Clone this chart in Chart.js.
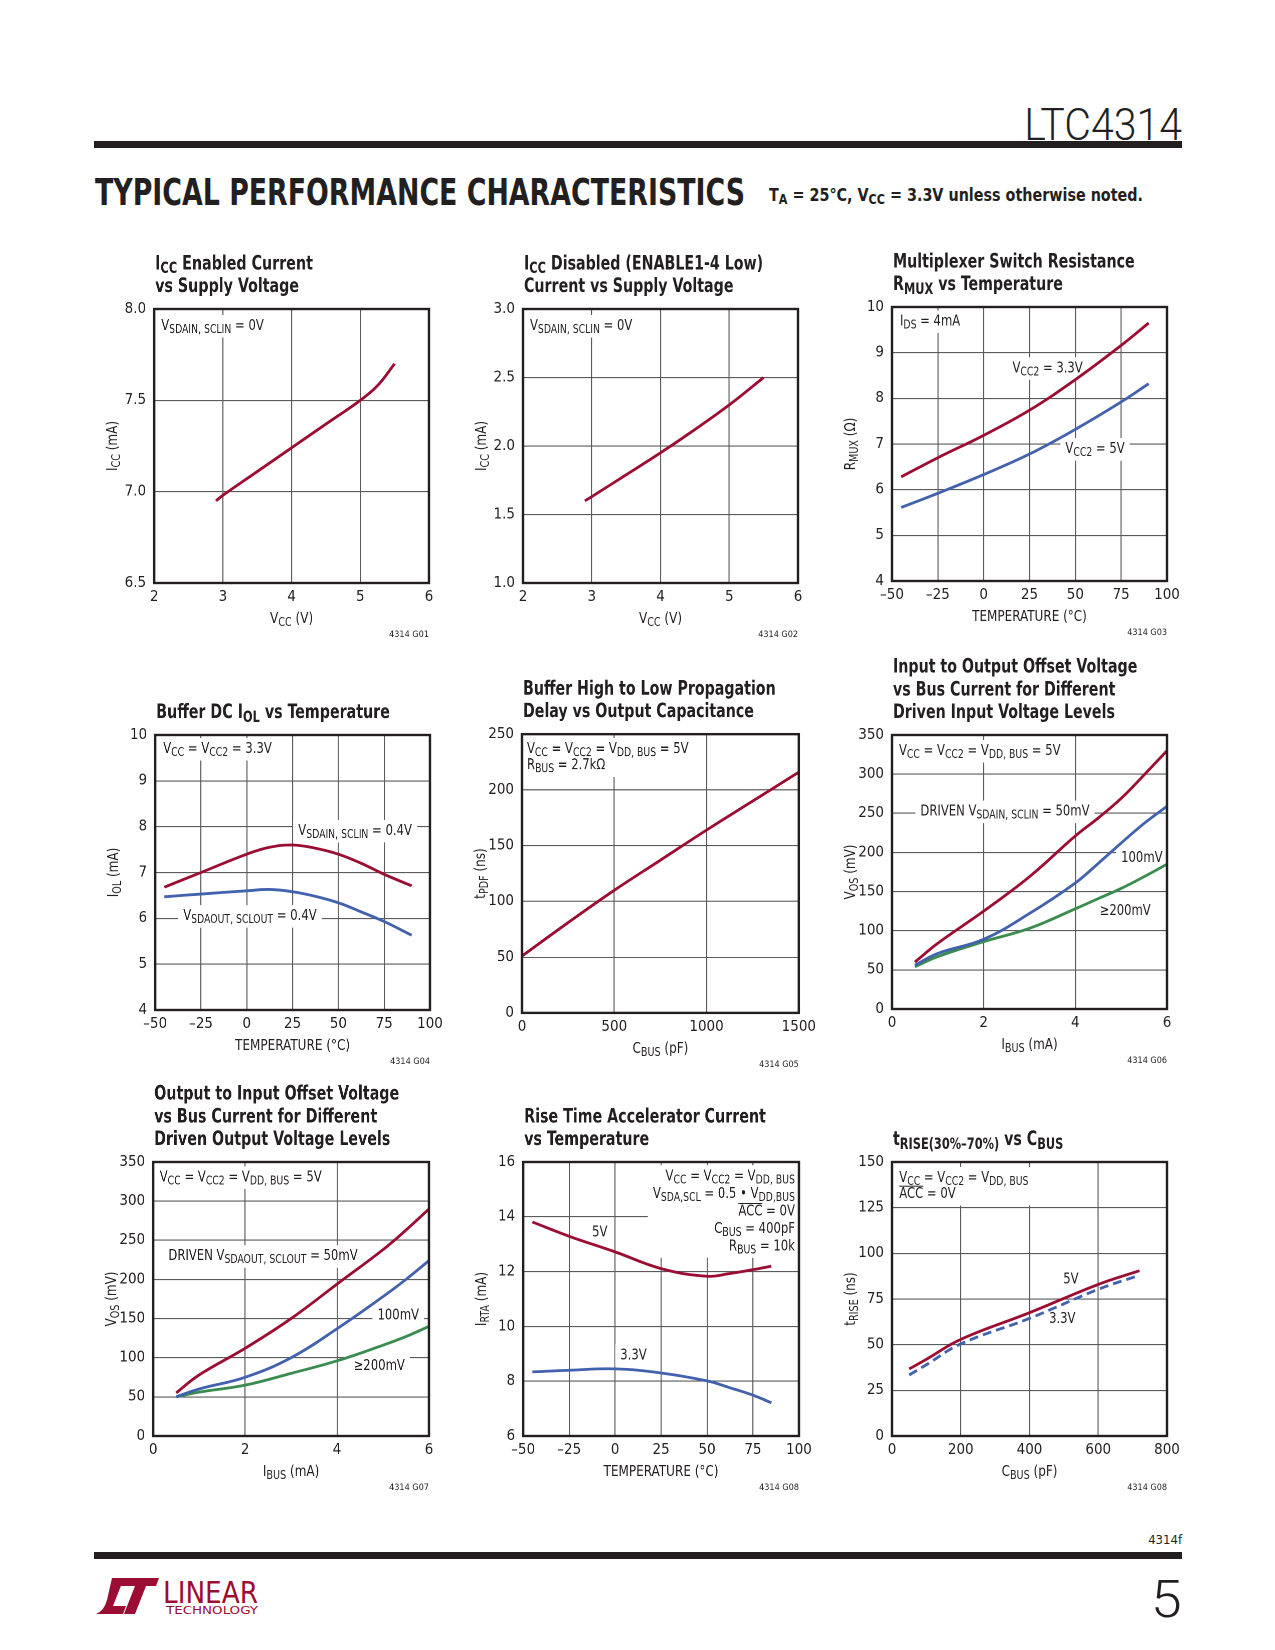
<!DOCTYPE html>
<html>
<head>
<meta charset="utf-8">
<script src="https://cdn.jsdelivr.net/npm/chart.js@4.4.1/dist/chart.umd.min.js"></script>
<style>
  html, body { margin: 0; padding: 0; background: #fff; }
  #page { position: relative; width: 1275px; height: 1650px; overflow: hidden; background: #fff;
          color: #231f20; font-family: 'Liberation Sans Narrow', 'DejaVu Sans Condensed', sans-serif; }
  .abs { position: absolute; white-space: nowrap; line-height: 1; }
  .fit { transform-origin: left top; }
  .fitr { transform-origin: right top; }
  .bar { position: absolute; background: #231f20; }
  canvas { position: absolute; }
  sub { font-size: 0.78em; vertical-align: -0.22em; line-height: 0; }
</style>
</head>
<body>
<div id="page">
  <div class="abs fitr" data-w="158" style="right:93px; top:99px; font:300 44px Roboto, 'DejaVu Sans', sans-serif;">LTC4314</div>
  <div class="bar" style="left:94px; top:141px; width:1088px; height:7px;"></div>
  <div class="abs fit" data-w="650" style="left:95px; top:170px; font:bold 38px 'DejaVu Sans Condensed','DejaVu Sans',sans-serif;">TYPICAL PERFORMANCE CHARACTERISTICS</div>
  <div class="abs fit" data-w="374" style="left:769px; top:186px; font-weight:bold; font-size:18px;">T<sub>A</sub> = 25°C, V<sub>CC</sub> = 3.3V unless otherwise noted.</div>

  <div class="abs" style="right:93px; top:1533px; font-size:13px;">4314f</div>
  <div class="bar" style="left:94px; top:1552px; width:1088px; height:7px;"></div>
  <div class="abs fitr" data-w="31" style="right:93px; top:1569px; font:300 52px Roboto, 'DejaVu Sans', sans-serif;">5</div>
  <svg class="abs" style="left:95px; top:1576px;" width="170" height="42" viewBox="0 0 170 42">
    <g fill="#9b0d32">
      <path d="M17 2 L29 2 L18 30 L31 30 L28 38 L1 38 Q9 35 12 24 Z"/>
      <path d="M27 2 L64 2 L61 10 L51 10 L40 38 L29 38 L40 10 L24 10 Z"/>
      <text x="68" y="27" font-family="'DejaVu Sans Condensed',sans-serif" font-size="31" textLength="95" lengthAdjust="spacingAndGlyphs">LINEAR</text>
      <text x="71" y="38" font-family="'DejaVu Sans Condensed',sans-serif" font-size="10" textLength="92" lengthAdjust="spacingAndGlyphs">TECHNOLOGY</text>
    </g>
  </svg>
</div>

<script>
const FAM = "'Liberation Sans Narrow', 'DejaVu Sans Condensed', sans-serif";
const INK = '#231f20';
const RED = '#9b0d32', BLUE = '#4262ae', GREEN = '#3a8c4e';

// G01  ICC enabled vs VCC
const g01Vcc = [2.9, 3.0, 3.5, 4.0, 4.5, 5.0, 5.25, 5.5];
const g01Icc = [6.95, 6.98, 7.11, 7.24, 7.37, 7.50, 7.58, 7.70];

// G02  ICC disabled vs VCC
const g02Vcc = [2.9, 3.0, 3.5, 4.0, 4.5, 5.0, 5.5];
const g02Icc = [1.60, 1.63, 1.79, 1.95, 2.12, 2.30, 2.50];

// G03  RMUX vs temperature
const g03Temp = [-45, -25, 0, 25, 50, 75, 90];
const g03R33 = [6.28, 6.70, 7.19, 7.74, 8.41, 9.16, 9.65];
const g03R5 = [5.61, 5.92, 6.33, 6.78, 7.32, 7.92, 8.32];

// G04  buffer DC IOL vs temperature
const g04Temp = [-45, -25, 0, 12.5, 25, 37.5, 50, 62.5, 75, 90];
const g04In = [6.68, 7.00, 7.40, 7.55, 7.60, 7.53, 7.40, 7.20, 6.96, 6.71];
const g04Out = [6.47, 6.53, 6.60, 6.63, 6.58, 6.48, 6.34, 6.14, 5.93, 5.63];

// G05  tPDF vs CBUS
const g05Cbus = [0, 250, 500, 750, 1000, 1250, 1500];
const g05Tpdf = [51, 81, 110, 137, 164, 190, 216];

// G06  input to output offset
const g06Ibus = [0.5, 1, 2, 3, 4, 4.5, 5, 5.5, 6];
const g06Vos50 = [60, 84, 125, 169, 221, 244, 269, 299, 330];
const g06Vos100 = [56, 71, 89, 122, 161, 186, 212, 237, 259];
const g06Vos200 = [54, 67, 86, 103, 128, 141, 154, 169, 185];

// G07  output to input offset
const g07Ibus = [0.5, 1, 2, 3, 4, 5, 5.5, 6];
const g07Vos50 = [55, 78, 112, 150, 194, 238, 263, 290];
const g07Vos100 = [50, 60, 75, 100, 137, 178, 200, 224];
const g07Vos200 = [50, 56, 65, 80, 96, 116, 127, 140];

// G08  rise time accelerator current
const g08Temp = [-45, -25, 0, 25, 50, 62.5, 75, 85];
const g08I5 = [13.81, 13.29, 12.72, 12.11, 11.83, 11.93, 12.07, 12.20];
const g08I33 = [8.34, 8.40, 8.45, 8.30, 8.01, 7.76, 7.49, 7.21];

// G09  tRISE vs CBUS
const g09Cbus = [50, 100, 200, 400, 600, 720];
const g09T5 = [36.7, 42, 52.9, 67.5, 83, 90.5];
const g09T33 = [33.4, 39, 50.4, 64.4, 80.3, 88];

// "_{..}" subscript, "~{..}" overline
function parseRich(s) {
  const out = [];
  let i = 0, buf = '';
  while (i < s.length) {
    const c = s[i];
    if ((c === '_' || c === '~') && s[i + 1] === '{') {
      if (buf) out.push({ t: buf });
      buf = '';
      const j = s.indexOf('}', i);
      out.push({ t: s.slice(i + 2, j), sub: c === '_', over: c === '~' });
      i = j + 1;
    } else { buf += c; i++; }
  }
  if (buf) out.push({ t: buf });
  return out;
}

// text squeezed horizontally by o.sx (no narrow face is installed)
function drawRich(ctx, s, x, y, o) {
  const size = o.size, wt = o.bold ? 'bold ' : '', sx = o.sx || 1;
  const fN = wt + size + 'px ' + FAM;
  const fS = wt + (size * 0.8).toFixed(1) + 'px ' + FAM;
  const segs = parseRich(s);
  let w = 0;
  segs.forEach(g => { ctx.font = g.sub ? fS : fN; g.w = ctx.measureText(g.t).width * sx; w += g.w; });
  let cx = o.align === 'right' ? x - w : o.align === 'center' ? x - w / 2 : x;
  const x0 = cx;
  if (!o.measure) {
    ctx.fillStyle = o.color || INK;
    ctx.textAlign = 'left';
    ctx.textBaseline = 'alphabetic';
    segs.forEach(g => {
      ctx.font = g.sub ? fS : fN;
      ctx.save();
      ctx.translate(cx, y + (g.sub ? size * 0.2 : 0));
      ctx.scale(sx, 1);
      ctx.fillText(g.t, 0, 0);
      ctx.restore();
      if (g.over) ctx.fillRect(cx, y - size * 0.82, g.w, 1);
      cx += g.w;
    });
  }
  return { x0, w };
}

const SX_NOTE = 0.86, SX_TITLE = 0.81, SX_AXIS = 0.89;

const notesPlugin = {
  id: 'notes',
  beforeDatasetsDraw(chart, args, o) {
    const ctx = chart.ctx, a = chart.chartArea;
    ctx.save();
    (o.labels || []).forEach(L => {
      const sz = L.size || 15, lh = L.lh || 16.5;
      let bx, by;
      if (L.at === 'tl') { bx = a.left + L.x; by = a.top + L.y; }
      else if (L.at === 'tr') { bx = a.right - L.x; by = a.top + L.y; }
      else { bx = chart.scales.x.getPixelForValue(L.x); by = chart.scales.y.getPixelForValue(L.y); }
      let minX = 1e9, maxX = -1e9;
      L.lines.forEach((s, i) => {
        const m = drawRich(ctx, s, bx, by + i * lh, { size: sz, align: L.align, sx: SX_NOTE, measure: true });
        minX = Math.min(minX, m.x0); maxX = Math.max(maxX, m.x0 + m.w);
      });
      const top = by - sz * 0.8 - 3, bot = by + (L.lines.length - 1) * lh + sz * 0.3 + 3;
      ctx.fillStyle = '#fff';
      ctx.fillRect(minX - 5, top, maxX - minX + 10, bot - top);
      L.lines.forEach((s, i) => drawRich(ctx, s, bx, by + i * lh, { size: sz, align: L.align, sx: SX_NOTE }));
    });
    ctx.restore();
  },
  afterDraw(chart, args, o) {
    const ctx = chart.ctx, a = chart.chartArea;
    ctx.save();
    ctx.strokeStyle = INK;
    ctx.lineWidth = 2.4;
    ctx.strokeRect(a.left, a.top, a.right - a.left, a.bottom - a.top);
    const n = o.title.length;
    o.title.forEach((s, i) => {
      drawRich(ctx, s, a.left + 1, a.top - 17 - (n - 1 - i) * 22.7, { size: 19.5, bold: true, sx: SX_TITLE });
    });
    drawRich(ctx, o.xTitle, (a.left + a.right) / 2, a.bottom + 40, { size: 15, align: 'center', sx: SX_AXIS });
    ctx.translate(a.left - 42, (a.top + a.bottom) / 2);
    ctx.rotate(-Math.PI / 2);
    drawRich(ctx, o.yTitle, 0, 5, { size: 15, align: 'center', sx: SX_AXIS });
    ctx.restore();
    ctx.save();
    ctx.font = '9px ' + FAM;
    ctx.fillStyle = INK;
    ctx.textAlign = 'right';
    ctx.fillText(o.code, a.right, a.bottom + 54);
    ctx.restore();
  }
};

const dash = v => String(v).replace('-', '\u2013');

function axis(min, max, step, dec, horizontal) {
  return {
    type: 'linear', min, max,
    ticks: {
      stepSize: step, color: INK, font: { size: 15 }, padding: horizontal ? 5 : 8,
      maxRotation: 0, autoSkip: false,
      callback: v => dash(dec ? Number(v).toFixed(dec) : v)
    },
    grid: { color: '#5b5b5b', lineWidth: 1.1, drawTicks: false },
    border: { display: false },
    afterFit(s) { if (horizontal) s.height = 40; else s.width = 40; }
  };
}

function series(xs, ys, color, dashed) {
  return {
    data: xs.map((x, i) => ({ x, y: ys[i] })),
    borderColor: color, borderWidth: 2.8, pointRadius: 0, fill: false,
    tension: 0.4, borderDash: dashed ? [9, 5] : [],
    borderCapStyle: 'butt'
  };
}

const page = document.getElementById('page');

function makeChart(box, xs, ys, datasets, notes) {
  const W = box.r - box.l + 80, H = box.b - box.t + 85 + 62;
  const cv = document.createElement('canvas');
  cv.width = W; cv.height = H;
  cv.style.left = (box.l - 60) + 'px';
  cv.style.top = (box.t - 85) + 'px';
  cv.style.width = W + 'px';
  cv.style.height = H + 'px';
  page.appendChild(cv);
  new Chart(cv, {
    type: 'line',
    data: { datasets },
    options: {
      responsive: false, animation: false, devicePixelRatio: 2,
      layout: { padding: { left: 20, right: 20, top: 85, bottom: 22 }, autoPadding: false },
      plugins: { legend: { display: false }, tooltip: { enabled: false }, notes },
      scales: { x: xs, y: ys }
    },
    plugins: [notesPlugin]
  });
}

Chart.defaults.font.family = FAM;

makeChart({ l: 154.3, t: 309, r: 429, b: 583 },
  axis(2, 6, 1, 0, true), axis(6.5, 8, 0.5, 1, false),
  [series(g01Vcc, g01Icc, RED)],
  { title: ['I_{CC} Enabled Current', 'vs Supply Voltage'], xTitle: 'V_{CC} (V)', yTitle: 'I_{CC} (mA)', code: '4314 G01',
    labels: [{ at: 'tl', x: 7, y: 21, lines: ['V_{SDAIN, SCLIN} = 0V'] }] });

makeChart({ l: 522.7, t: 309, r: 798.5, b: 583 },
  axis(2, 6, 1, 0, true), axis(1, 3, 0.5, 1, false),
  [series(g02Vcc, g02Icc, RED)],
  { title: ['I_{CC} Disabled (ENABLE1-4 Low)', 'Current vs Supply Voltage'], xTitle: 'V_{CC} (V)', yTitle: 'I_{CC} (mA)', code: '4314 G02',
    labels: [{ at: 'tl', x: 7, y: 21, lines: ['V_{SDAIN, SCLIN} = 0V'] }] });

makeChart({ l: 891.7, t: 306.7, r: 1167, b: 581 },
  axis(-50, 100, 25, 0, true), axis(4, 10, 1, 0, false),
  [series(g03Temp, g03R33, RED), series(g03Temp, g03R5, BLUE)],
  { title: ['Multiplexer Switch Resistance', 'R_{MUX} vs Temperature'], xTitle: 'TEMPERATURE (°C)', yTitle: 'R_{MUX} (Ω)', code: '4314 G03',
    labels: [
      { at: 'tl', x: 8, y: 18.5, lines: ['I_{DS} = 4mA'] },
      { x: 15.7, y: 8.57, lines: ['V_{CC2} = 3.3V'] },
      { x: 44.6, y: 6.80, lines: ['V_{CC2} = 5V'] }
    ] });

makeChart({ l: 155, t: 735, r: 429.5, b: 1010 },
  axis(-50, 100, 25, 0, true), axis(4, 10, 1, 0, false),
  [series(g04Temp, g04In, RED), series(g04Temp, g04Out, BLUE)],
  { title: ['Buffer DC I_{OL} vs Temperature'], xTitle: 'TEMPERATURE (°C)', yTitle: 'I_{OL} (mA)', code: '4314 G04',
    labels: [
      { at: 'tl', x: 8, y: 18, lines: ['V_{CC} = V_{CC2} = 3.3V'] },
      { x: 28.1, y: 7.82, lines: ['V_{SDAIN, SCLIN} = 0.4V'] },
      { x: -34.7, y: 5.96, lines: ['V_{SDAOUT, SCLOUT} = 0.4V'] }
    ] });

makeChart({ l: 522.3, t: 734.3, r: 801.3, b: 1013 },
  axis(0, 1500, 500, 0, true), axis(0, 250, 50, 0, false),
  [series(g05Cbus, g05Tpdf, RED)],
  { title: ['Buffer High to Low Propagation', 'Delay vs Output Capacitance'], xTitle: 'C_{BUS} (pF)', yTitle: 't_{PDF} (ns)', code: '4314 G05',
    labels: [{ at: 'tl', x: 5, y: 19, lh: 16, lines: ['V_{CC} = V_{CC2} = V_{DD, BUS} = 5V', 'R_{BUS} = 2.7kΩ'] }] });

makeChart({ l: 891.7, t: 735, r: 1167, b: 1009.3 },
  axis(0, 6, 2, 0, true), axis(0, 350, 50, 0, false),
  [series(g06Ibus, g06Vos50, RED), series(g06Ibus, g06Vos100, BLUE), series(g06Ibus, g06Vos200, GREEN)],
  { title: ['Input to Output Offset Voltage', 'vs Bus Current for Different', 'Driven Input Voltage Levels'], xTitle: 'I_{BUS} (mA)', yTitle: 'V_{OS} (mV)', code: '4314 G06',
    labels: [
      { at: 'tl', x: 7, y: 20, lines: ['V_{CC} = V_{CC2} = V_{DD, BUS} = 5V'] },
      { x: 0.62, y: 247, lines: ['DRIVEN V_{SDAIN, SCLIN} = 50mV'] },
      { x: 5.0, y: 188, lines: ['100mV'] },
      { x: 4.53, y: 120, lines: ['≥200mV'] }
    ] });

makeChart({ l: 152.7, t: 1161.7, r: 428.6, b: 1436 },
  axis(0, 6, 2, 0, true), axis(0, 350, 50, 0, false),
  [series(g07Ibus, g07Vos50, RED), series(g07Ibus, g07Vos100, BLUE), series(g07Ibus, g07Vos200, GREEN)],
  { title: ['Output to Input Offset Voltage', 'vs Bus Current for Different', 'Driven Output Voltage Levels'], xTitle: 'I_{BUS} (mA)', yTitle: 'V_{OS} (mV)', code: '4314 G07',
    labels: [
      { at: 'tl', x: 6.5, y: 19.5, lines: ['V_{CC} = V_{CC2} = V_{DD, BUS} = 5V'] },
      { x: 0.33, y: 224.5, lines: ['DRIVEN V_{SDAOUT, SCLOUT} = 50mV'] },
      { x: 4.88, y: 149, lines: ['100mV'] },
      { x: 4.36, y: 84, lines: ['≥200mV'] }
    ] });

makeChart({ l: 523.3, t: 1161.7, r: 798.7, b: 1436 },
  axis(-50, 100, 25, 0, true), axis(6, 16, 2, 0, false),
  [series(g08Temp, g08I5, RED), series(g08Temp, g08I33, BLUE)],
  { title: ['Rise Time Accelerator Current', 'vs Temperature'], xTitle: 'TEMPERATURE (°C)', yTitle: 'I_{RTA} (mA)', code: '4314 G08',
    labels: [
      { at: 'tr', x: 4, y: 18.3, lh: 17.5, align: 'right',
        lines: ['V_{CC} = V_{CC2} = V_{DD, BUS}', 'V_{SDA,SCL} = 0.5 • V_{DD,BUS}', '~{ACC} = 0V', 'C_{BUS} = 400pF', 'R_{BUS} = 10k'] },
      { x: -12.5, y: 13.29, lines: ['5V'] },
      { x: 2.8, y: 8.8, lines: ['3.3V'] }
    ] });

makeChart({ l: 891.7, t: 1161.7, r: 1167, b: 1436 },
  axis(0, 800, 200, 0, true), axis(0, 150, 25, 0, false),
  [series(g09Cbus, g09T5, RED), series(g09Cbus, g09T33, BLUE, true)],
  { title: ['t_{RISE(30%–70%)} vs C_{BUS}'], xTitle: 'C_{BUS} (pF)', yTitle: 't_{RISE} (ns)', code: '4314 G08',
    labels: [
      { at: 'tl', x: 7.3, y: 20, lh: 16, lines: ['V_{CC} = V_{CC2} = V_{DD, BUS}', '~{ACC} = 0V'] },
      { x: 498, y: 83.6, lines: ['5V'] },
      { x: 457, y: 61.8, lines: ['3.3V'] }
    ] });

document.querySelectorAll('.fit, .fitr').forEach(el => {
  const w = el.getBoundingClientRect().width;
  el.style.transform = 'scaleX(' + (Number(el.dataset.w) / w) + ')';
});
</script>
</body>
</html>
